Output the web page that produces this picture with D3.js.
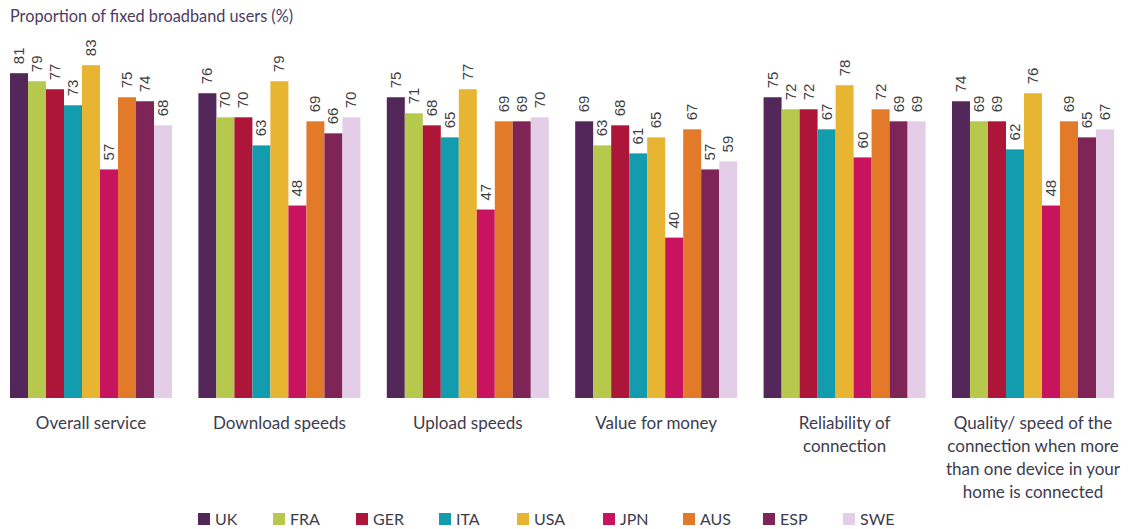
<!DOCTYPE html>
<html>
<head>
<meta charset="utf-8">
<script src="https://cdn.jsdelivr.net/npm/d3@7"></script>
<style>
  body { margin: 0; background: #fff; }
  svg { display: block; }
</style>
</head>
<body>
<svg id="chart" width="1131" height="529"></svg>
<script>
// categories (x groups)
const categories = [
  ['Overall service'],
  ['Download speeds'],
  ['Upload speeds'],
  ['Value for money'],
  ['Reliability of', 'connection'],
  ['Quality/ speed of the', 'connection when more', 'than one device in your', 'home is connected']
];
const countries = ['UK', 'FRA', 'GER', 'ITA', 'USA', 'JPN', 'AUS', 'ESP', 'SWE'];
const colors = ['#53275a', '#b6c94c', '#ae1639', '#139cae', '#e8b532', '#c8145f', '#e27a2a', '#7f2457', '#e3cde7'];

// values per category, in country order
const overall     = [81, 79, 77, 73, 83, 57, 75, 74, 68];
const download    = [76, 70, 70, 63, 79, 48, 69, 66, 70];
const upload      = [75, 71, 68, 65, 77, 47, 69, 69, 70];
const valueMoney  = [69, 63, 68, 61, 65, 40, 67, 57, 59];
const reliability = [75, 72, 72, 67, 78, 60, 72, 69, 69];
const quality     = [74, 69, 69, 62, 76, 48, 69, 65, 67];
const series = [overall, download, upload, valueMoney, reliability, quality];

const svg = d3.select('#chart');
const baseY = 398;

// Scales
const x0 = d3.scaleBand()
  .domain(d3.range(categories.length))
  .range([10, 1114])
  .paddingInner(0.14)
  .paddingOuter(0);

const x1 = d3.scaleBand()
  .domain(countries)
  .range([0, x0.bandwidth()]);

const y = d3.scaleLinear()
  .domain([0, 100])
  .range([baseY, -3]);

// Title
svg.append('text')
  .attr('x', 10)
  .attr('y', 22)
  .attr('font-family', 'Lato, sans-serif')
  .attr('font-size', 16.3)
  .attr('fill', '#4d3b63')
  .text('Proportion of fixed broadband users (%)');

// Bars + value labels
const groups = svg.selectAll('.grp')
  .data(series)
  .enter()
  .append('g')
  .attr('class', 'grp')
  .attr('transform', (d, i) => `translate(${x0(i)},0)`);

groups.selectAll('rect')
  .data(d => d.map((v, j) => ({ country: countries[j], value: v, color: colors[j] })))
  .enter()
  .append('rect')
  .attr('x', d => x1(d.country))
  .attr('y', d => y(d.value))
  .attr('width', x1.bandwidth())
  .attr('height', d => baseY - y(d.value))
  .attr('fill', d => d.color);

groups.selectAll('text.val')
  .data(d => d.map((v, j) => ({ country: countries[j], value: v })))
  .enter()
  .append('text')
  .attr('class', 'val')
  .attr('transform', d => {
    const cx = x1(d.country) + x1.bandwidth() / 2 + 5;
    const cy = y(d.value) - 9;
    return `translate(${cx},${cy}) rotate(-90)`;
  })
  .attr('font-family', 'Liberation Sans, Arial, sans-serif')
  .attr('font-size', 15)
  .attr('fill', '#3f3f3f')
  .text(d => d.value);

// Category labels
const catLabels = svg.selectAll('.cat')
  .data(categories)
  .enter()
  .append('text')
  .attr('class', 'cat')
  .attr('x', (d, i) => x0(i) + x0.bandwidth() / 2)
  .attr('y', 429)
  .attr('text-anchor', 'middle')
  .attr('font-family', 'Lato, sans-serif')
  .attr('font-size', 17)
  .attr('fill', '#3c3c4e');

catLabels.selectAll('tspan')
  .data(d => d)
  .enter()
  .append('tspan')
  .attr('x', function() { return d3.select(this.parentNode).attr('x'); })
  .attr('dy', (d, i) => i === 0 ? 0 : 23)
  .text(d => d);

// Legend
const legendX = [198, 273, 356, 439, 517, 603, 683, 763, 843];
const legend = svg.selectAll('.leg')
  .data(countries)
  .enter()
  .append('g')
  .attr('class', 'leg')
  .attr('transform', (d, i) => `translate(${legendX[i]},513)`);

legend.append('rect')
  .attr('width', 12)
  .attr('height', 12)
  .attr('fill', (d, i) => colors[i]);

legend.append('text')
  .attr('x', 17)
  .attr('y', 12)
  .attr('font-family', 'Lato, sans-serif')
  .attr('font-size', 16)
  .attr('fill', '#3c3c4e')
  .text(d => d);
</script>
</body>
</html>
